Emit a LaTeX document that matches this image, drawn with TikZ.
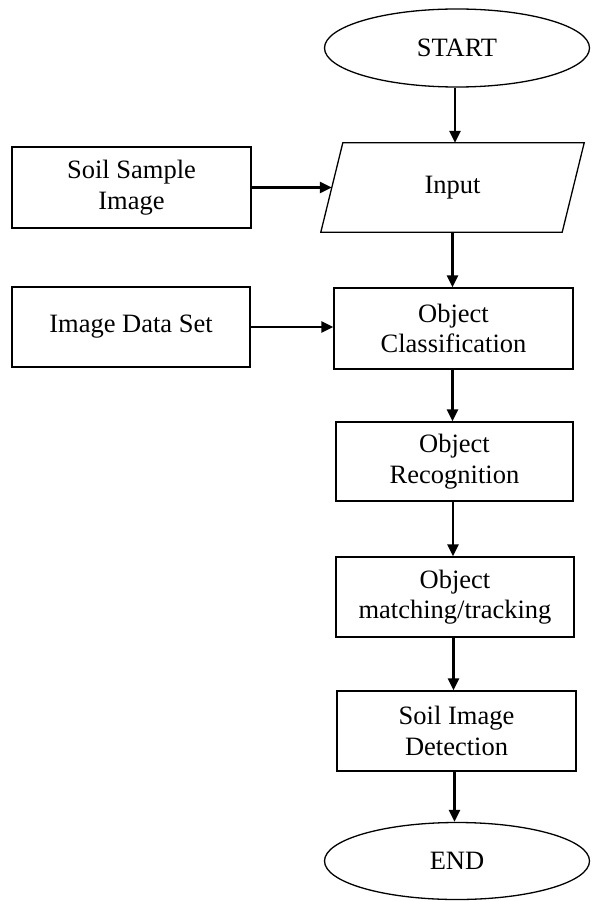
\documentclass[tikz,border=0pt]{standalone}
\usepackage{fontspec}
\setmainfont{Liberation Serif}
\usetikzlibrary{shapes.geometric,arrows.meta,calc}
\begin{document}
\begin{tikzpicture}[x=1pt,y=-1pt,
  every node/.style={font=\fontsize{26.5}{30.5}\selectfont, align=center, inner sep=0pt},
  box/.style={draw, line width=1.3pt, rectangle},
  oval/.style={draw, line width=1.3pt, ellipse},
  flow/.style={line width=2.4pt, -{Triangle[length=12pt,width=11pt]}}
]
\useasboundingbox (0,0) rectangle (591,901);
\node[oval, minimum width=265pt, minimum height=78pt] (start) at (457,48) {START};
\node[minimum width=241pt, minimum height=89pt] (input) at (452.5,187.5) {Input};
\draw[line width=1.3pt] ($(input.north west)+(11,0)$) -- ($(input.north east)+(11,0)$)
  -- ($(input.south east)+(-11,0)$) -- ($(input.south west)+(-11,0)$) -- cycle;
\node[box, minimum width=239pt, minimum height=81pt] (soil) at (131.5,187.5) {Soil Sample\\Image};
\node[box, minimum width=238pt, minimum height=80pt] (dataset) at (131,327) {Image Data Set};
\node[box, minimum width=239pt, minimum height=81pt] (classif) at (453.5,328.5) {Object\\Classification};
\node[box, minimum width=237pt, minimum height=79pt] (recog) at (454.5,461.5) {Object\\Recognition};
\node[box, minimum width=238pt, minimum height=80pt] (match) at (455,597) {Object\\matching/tracking};
\node[box, minimum width=239pt, minimum height=80pt] (detect) at (456.5,731) {Soil Image\\Detection};
\node[oval, minimum width=265pt, minimum height=77pt] (end) at (457,861) {END};

\draw[flow] ([xshift=-2pt]start.south) -- ([xshift=-2pt]start.south |- input.north);
\draw[flow] (input.south) -- (input.south |- classif.north);
\draw[flow] ([xshift=-1pt]classif.south) -- ([xshift=-1pt]classif.south |- recog.north);
\draw[flow] ([xshift=-1.5pt]recog.south) -- ([xshift=-1.5pt]recog.south |- match.north);
\draw[flow] ([xshift=-1.5pt]match.south) -- ([xshift=-1.5pt]match.south |- detect.north);
\draw[flow] ([xshift=-2pt]detect.south) -- ([xshift=-2pt]detect.south |- end.north);
\draw[flow] (soil.east) -- (soil.east -| input.west);
\draw[flow] (dataset.east) -- (dataset.east -| classif.west);
\end{tikzpicture}
\end{document}
